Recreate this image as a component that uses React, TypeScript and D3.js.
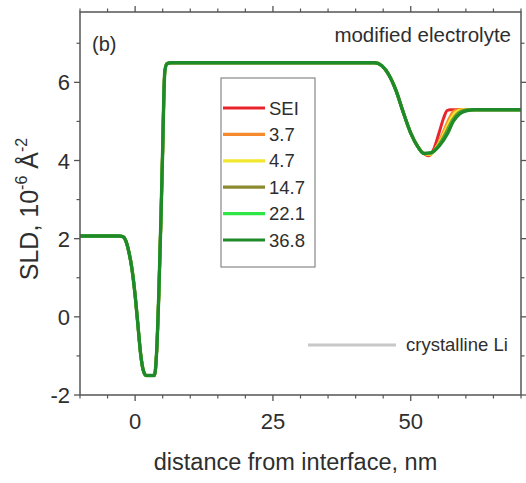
import React from "react";
import * as d3 from "d3";

// ---- data ----
const xTicks = [0, 25, 50];
const xMinorTicks = [-10, -5, 5, 10, 15, 20, 30, 35, 40, 45, 55, 60, 65, 70];
const yTicks = [-2, 0, 2, 4, 6];
const yMinorTicks = [-1, 1, 3, 5, 7];

// shared part of the SLD profile (x in nm, SLD in 1e-6 Å^-2)
const sharedProfile: [number, number][] = [
  [-10, 2.07], [-3.0, 2.07], [-2.2, 2.05], [-1.7, 1.95], [-1.2, 1.7], [-0.6, 1.25],
  [0.0, 0.55], [0.5, -0.2], [1.0, -0.95], [1.5, -1.38], [2.0, -1.5], [3.5, -1.5],
  [3.9, -0.9], [4.3, 0.6], [4.7, 2.6], [5.0, 4.3], [5.2, 5.6], [5.4, 6.3], [5.8, 6.48],
  [6.5, 6.5], [43.5, 6.5], [44.8, 6.42], [46.0, 6.2], [47.3, 5.8], [48.6, 5.25],
  [50.0, 4.7], [51.3, 4.35], [52.4, 4.18],
];

const seiTail: [number, number][] = [[53.2, 4.12], [54.2, 4.3], [55.1, 4.69], [56.0, 5.1], [56.6, 5.28], [57.2, 5.3], [70, 5.3]];
const tail37: [number, number][] = [[53.4, 4.14], [54.6, 4.33], [55.8, 4.69], [56.9, 5.05], [57.8, 5.26], [58.6, 5.3], [70, 5.3]];
const tail47: [number, number][] = [[53.5, 4.16], [54.8, 4.36], [56.0, 4.69], [57.1, 5.02], [58.2, 5.24], [59.3, 5.3], [70, 5.3]];
const tail147: [number, number][] = [[53.6, 4.18], [55.0, 4.38], [56.3, 4.69], [57.4, 5.0], [58.6, 5.22], [59.9, 5.29], [61.0, 5.3], [70, 5.3]];
const tail221: [number, number][] = [[53.7, 4.19], [55.1, 4.38], [56.6, 4.7], [57.6, 5.0], [58.8, 5.2], [60.1, 5.28], [61.4, 5.3], [70, 5.3]];
const tail368: [number, number][] = [[53.7, 4.2], [55.2, 4.38], [56.7, 4.7], [57.7, 5.0], [58.9, 5.2], [60.2, 5.28], [61.5, 5.3], [70, 5.3]];

const seriesNames = ["SEI", "3.7", "4.7", "14.7", "22.1", "36.8"];
const seriesTails = [seiTail, tail37, tail47, tail147, tail221, tail368];
const seriesColors = ["#e8242c", "#f58a2c", "#f2e62e", "#8c8a30", "#2ee646", "#1f8a2a"];

const refLabel = "crystalline Li";
const annotation = "modified electrolyte";
const panelLabel = "(b)";

export default function App() {
  const W = 526, H = 483;
  const left = 80, right = 521, top = 12, bottom = 395;
  const x = d3.scaleLinear().domain([-10, 70]).range([left, right]);
  const y = d3.scaleLinear().domain([-2, 7.8]).range([bottom, top]);
  const line = d3.line<[number, number]>().x((d) => x(d[0])).y((d) => y(d[1])).curve(d3.curveMonotoneX);
  const axisColor = "#555";
  const textColor = "#2e2e2e";
  const font = "'Liberation Sans', Arial, sans-serif";

  return (
    <svg width={W} height={H} style={{ position: "absolute", left: 0, top: 0, background: "#fff" }} fontFamily={font}>
      <defs>
        <clipPath id="plotclip">
          <rect x={left} y={top} width={right - left} height={bottom - top} />
        </clipPath>
      </defs>
      {/* series */}
      <g clipPath="url(#plotclip)" fill="none" strokeLinejoin="round" strokeLinecap="round">
        {seriesNames.map((n, i) => (
          <path key={n} d={line([...sharedProfile, ...seriesTails[i]]) || ""} stroke={seriesColors[i]} strokeWidth={i === 5 ? 3.4 : 3} />
        ))}
      </g>
      {/* frame */}
      <rect x={left} y={top} width={right - left} height={bottom - top} fill="none" stroke={axisColor} strokeWidth={1.5} />
      {/* x ticks bottom & top */}
      {xTicks.map((t) => (
        <g key={"xt" + t}>
          <line x1={x(t)} x2={x(t)} y1={bottom} y2={bottom + 6} stroke={axisColor} strokeWidth={1.3} />
          <line x1={x(t)} x2={x(t)} y1={top} y2={top - 6} stroke={axisColor} strokeWidth={1.3} />
          <text x={x(t)} y={429} textAnchor="middle" fontSize={22} fill={textColor}>{t}</text>
        </g>
      ))}
      {xMinorTicks.map((t) => (
        <g key={"xm" + t}>
          <line x1={x(t)} x2={x(t)} y1={bottom} y2={bottom + 3.5} stroke={axisColor} strokeWidth={1.2} />
          <line x1={x(t)} x2={x(t)} y1={top} y2={top - 3.5} stroke={axisColor} strokeWidth={1.2} />
        </g>
      ))}
      {/* y ticks left & right */}
      {yTicks.map((t) => (
        <g key={"yt" + t}>
          <line x1={left} x2={left - 6} y1={y(t)} y2={y(t)} stroke={axisColor} strokeWidth={1.3} />
          <line x1={right} x2={right + 6} y1={y(t)} y2={y(t)} stroke={axisColor} strokeWidth={1.3} />
          <text x={70} y={y(t) + 8} textAnchor="end" fontSize={22} fill={textColor}>{t}</text>
        </g>
      ))}
      {yMinorTicks.map((t) => (
        <g key={"ym" + t}>
          <line x1={left} x2={left - 3.5} y1={y(t)} y2={y(t)} stroke={axisColor} strokeWidth={1.2} />
          <line x1={right} x2={right + 3.5} y1={y(t)} y2={y(t)} stroke={axisColor} strokeWidth={1.2} />
        </g>
      ))}
      {/* axis labels */}
      <text x={(left + right) / 2 - 5} y={470} textAnchor="middle" fontSize={23.5} fill={textColor}>distance from interface, nm</text>
      <text transform={`translate(38,${209}) rotate(-90)`} textAnchor="middle" fontSize={25} fill={textColor}>
        <tspan>SLD, 10</tspan>
        <tspan fontSize={16} dy={-11}>-6</tspan>
        <tspan dy={11}> Å</tspan>
        <tspan fontSize={16} dy={-11}>-2</tspan>
      </text>
      {/* annotations */}
      <text x={92} y={51} fontSize={20} fill={textColor}>{panelLabel}</text>
      <text x={511} y={42} textAnchor="end" fontSize={20.5} fill={textColor}>{annotation}</text>
      {/* legend */}
      <rect x={221} y={78} width={94} height={189} fill="#fff" stroke="#888" strokeWidth={1.2} />
      {seriesNames.map((n, i) => {
        const ry = 108 + i * 26.4;
        return (
          <g key={"lg" + n}>
            <line x1={223} x2={265} y1={ry} y2={ry} stroke={seriesColors[i]} strokeWidth={3.2} />
            <text x={269} y={ry + 6.5} fontSize={18.5} fill={textColor}>{n}</text>
          </g>
        );
      })}
      {/* crystalline Li reference legend */}
      <line x1={308} x2={396} y1={345} y2={345} stroke="#c8c8c8" strokeWidth={3} />
      <text x={406} y={351} fontSize={18.5} fill={textColor}>{refLabel}</text>
    </svg>
  );
}
